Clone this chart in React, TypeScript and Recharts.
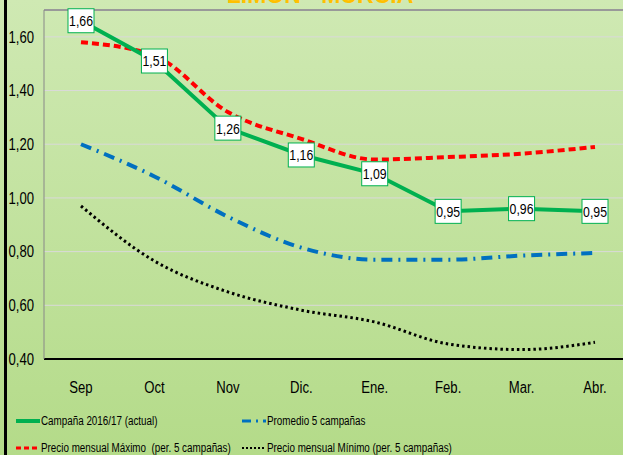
import React from 'react'
import { CartesianGrid, LabelList, Legend, Line, LineChart, ReferenceLine, XAxis, YAxis } from 'recharts'

const MONTHS = ['Sep', 'Oct', 'Nov', 'Dic.', 'Ene.', 'Feb.', 'Mar.', 'Abr.']
const ACTUAL = [1.66, 1.51, 1.26, 1.16, 1.09, 0.95, 0.96, 0.95]
const PROMEDIO = [1.2, 1.08, 0.93, 0.815, 0.77, 0.77, 0.785, 0.795]
const MAXIMO = [1.58, 1.53, 1.32, 1.22, 1.143, 1.152, 1.165, 1.19]
const MINIMO = [0.97, 0.765, 0.65, 0.582, 0.538, 0.456, 0.435, 0.462]
const Y_TICKS = [0.4, 0.6, 0.8, 1.0, 1.2, 1.4, 1.6]

// Arial Narrow look-alike: Liberation Sans squeezed horizontally
const FONT = "'Liberation Sans', Arial, sans-serif"
const NARROW = 0.82

const data = MONTHS.map((m, i) => ({
  m,
  actual: ACTUAL[i],
  promedio: PROMEDIO[i],
  maximo: MAXIMO[i],
  minimo: MINIMO[i],
}))

const fmt = (v: number) => v.toFixed(2).replace('.', ',')

function NarrowText(props: { x: number; y: number; anchor: string; size: number; dy?: string; children: any }) {
  return (
    <text
      transform={`translate(${props.x},${props.y}) scale(${NARROW},1)`}
      x={0}
      y={0}
      dy={props.dy}
      textAnchor={props.anchor}
      fontSize={props.size}
      fontFamily={FONT}
      fill="#000"
    >
      {props.children}
    </text>
  )
}

function XTick(props: any) {
  return (
    <NarrowText x={props.x} y={props.y} anchor="middle" size={16} dy="0.71em">
      {props.payload.value}
    </NarrowText>
  )
}

function YTick(props: any) {
  return (
    <NarrowText x={props.x} y={props.y} anchor="end" size={16} dy="0.355em">
      {fmt(props.payload.value)}
    </NarrowText>
  )
}

function BoxLabel(props: any) {
  const { x, y, value } = props
  if (x == null || y == null) return null
  return (
    <g>
      <rect x={x - 13} y={y - 12} width={26} height={24} fill="#fff" stroke="#00b050" strokeWidth={1} />
      <NarrowText x={x} y={y} anchor="middle" size={15} dy="0.36em">
        {fmt(value)}
      </NarrowText>
    </g>
  )
}

const LEGEND_ITEMS = [
  { label: 'Campaña 2016/17 (actual)', color: '#00b050', dash: undefined, w: 4, left: 16, top: 16 },
  { label: 'Promedio 5 campañas', color: '#0070c0', dash: '9 5 2 5', w: 3, left: 242, top: 16 },
  { label: 'Precio mensual Máximo  (per. 5 campañas)', color: '#ff0000', dash: '5 3', w: 3, left: 16, top: 43 },
  { label: 'Precio mensual Mínimo (per. 5 campañas)', color: '#000', dash: '2 2', w: 2, left: 242, top: 43 },
]

function renderLegend() {
  return (
    <div style={{ position: 'relative', height: 50, width: 623, fontFamily: FONT, fontSize: 12, color: '#000' }}>
      {LEGEND_ITEMS.map((it) => (
        <div key={it.label} style={{ position: 'absolute', left: it.left, top: it.top - 8, height: 16, display: 'flex', alignItems: 'center', whiteSpace: 'pre' }}>
          <svg width={25} height={16}>
            <line x1={0} y1={8} x2={24} y2={8} stroke={it.color} strokeWidth={it.w} strokeDasharray={it.dash} />
          </svg>
          <span style={{ display: 'inline-block', transform: `scaleX(${NARROW})`, transformOrigin: 'left center' }}>{it.label}</span>
        </div>
      ))}
    </div>
  )
}

export default function App() {
  return (
    <div
      style={{
        position: 'fixed',
        left: 0,
        top: 0,
        width: 623,
        height: 455,
        overflow: 'hidden',
        background: 'linear-gradient(180deg, #cfe9b3 0%, #b4db89 100%)',
      }}
    >
      <svg width={623} height={20} style={{ position: 'absolute', left: 0, top: 0 }}>
        <text x={320} y={3} textAnchor="middle" fontSize={23} fontWeight="bold" fill="#ffc000" fontFamily={FONT}>
          LIMON - MURCIA
        </text>
      </svg>
      <div style={{ position: 'absolute', left: 4, top: 0, width: 3, height: 455, background: '#000' }} />
      <div style={{ position: 'absolute', left: 0, top: 0 }}>
        <LineChart width={640} height={455} data={data} margin={{ top: 10, right: 8, bottom: 0, left: 0 }} style={{ fontFamily: FONT }}>
          <CartesianGrid vertical={false} stroke="#d9d9d9" strokeWidth={1} />
          <XAxis
            dataKey="m"
            interval={0}
            padding={{ left: 37, right: 37 }}
            tickLine={false}
            tickSize={0}
            tickMargin={23}
            height={46}
            axisLine={{ stroke: '#000', strokeWidth: 2 }}
            tick={XTick}
          />
          <YAxis
            domain={[0.4, 1.7]}
            ticks={Y_TICKS}
            width={44}
            tickLine={false}
            tickSize={0}
            tickMargin={10}
            axisLine={{ stroke: '#888' }}
            tick={YTick}
          />
          <ReferenceLine y={1.7} stroke="#999" strokeWidth={2} />
          <Legend verticalAlign="bottom" align="left" content={renderLegend} wrapperStyle={{ left: 0 }} />
          <Line
            name="Precio mensual Mínimo (per. 5 campañas)"
            dataKey="minimo"
            type="monotone"
            stroke="#000"
            strokeWidth={3}
            strokeDasharray="2.5 3"
            dot={false}
            isAnimationActive={false}
          />
          <Line
            name="Promedio 5 campañas"
            dataKey="promedio"
            type="monotone"
            stroke="#0070c0"
            strokeWidth={4}
            strokeDasharray="11 6 2 6"
            dot={false}
            isAnimationActive={false}
          />
          <Line
            name="Precio mensual Máximo (per. 5 campañas)"
            dataKey="maximo"
            type="monotone"
            stroke="#ff0000"
            strokeWidth={4}
            strokeDasharray="7 4"
            dot={false}
            isAnimationActive={false}
          />
          <Line
            name="Campaña 2016/17 (actual)"
            dataKey="actual"
            type="linear"
            stroke="#00b050"
            strokeWidth={4}
            dot={false}
            isAnimationActive={false}
          >
            <LabelList dataKey="actual" content={BoxLabel} />
          </Line>
        </LineChart>
      </div>
    </div>
  )
}
